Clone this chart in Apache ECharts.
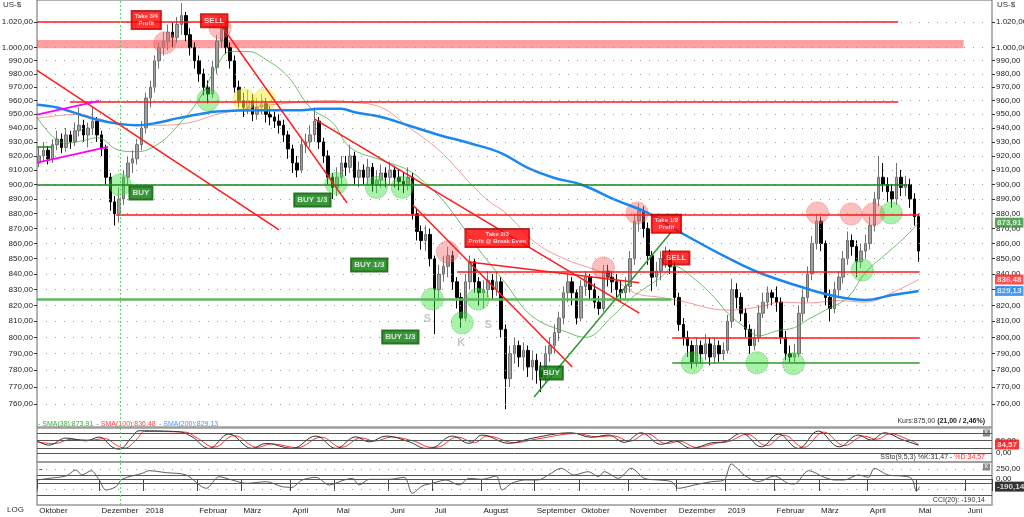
<!DOCTYPE html>
<html><head><meta charset="utf-8">
<script src="https://cdn.jsdelivr.net/npm/echarts@6/dist/echarts.min.js"></script>
<style>html,body{margin:0;padding:0;background:#fff}#c{width:1024px;height:517px}</style>
</head><body><div id="c"></div><script>
// ---------- DATA ----------
const opens=[915,920,924,918,928,932,926,935,930,938,942,935,940,945,935,925,905,888,880,890,905,915,918,928,940,962,970,990,1000,1005,1012,1008,1018,1025,1010,1000,990,980,970,965,985,1005,1015,1000,990,970,960,955,960,950,955,958,950,948,945,942,935,925,915,910,928,930,935,945,930,920,905,898,905,915,912,920,905,910,905,912,900,903,908,905,910,905,902,900,905,880,868,862,866,850,830,840,845,852,835,825,812,835,848,835,828,830,836,830,835,805,775,790,795,788,792,782,786,780,776,790,795,803,812,828,835,828,812,832,838,830,822,818,842,838,835,830,828,832,850,875,882,870,852,838,842,850,852,845,825,808,800,795,785,795,790,796,788,795,790,792,810,830,825,815,805,795,800,815,822,828,825,822,800,790,788,790,815,825,840,860,875,860,825,818,830,838,850,862,858,848,855,860,872,890,905,900,895,890,905,898,900,890,878];
const closes=[920,924,918,928,932,926,935,930,938,942,935,940,945,935,925,905,888,880,890,905,915,918,928,940,962,970,990,1000,1005,1012,1008,1018,1025,1010,1000,990,980,970,965,985,1005,1015,1000,990,970,960,955,960,950,955,958,950,948,945,942,935,925,915,910,928,930,935,945,930,920,905,898,905,915,912,920,905,910,905,912,900,903,908,905,910,905,902,900,905,880,868,862,866,850,830,840,845,852,835,825,812,835,848,835,828,830,836,830,835,805,775,790,795,788,792,782,786,780,776,790,795,803,812,828,835,828,812,832,838,830,822,818,842,838,835,830,828,832,850,875,882,870,852,838,842,850,852,845,825,808,800,795,785,795,790,796,788,795,790,792,810,830,825,815,805,795,800,815,822,828,825,822,800,790,788,790,815,825,840,860,875,860,825,818,830,838,850,862,858,848,855,860,872,890,905,900,895,890,905,898,900,890,878,855];
const lows=[912,916,914,915,924,922,923,925,927,934,930,926,935,930,920,900,882,872,874,886,900,908,914,924,936,955,966,984,994,998,1000,1004,1010,1005,994,984,974,964,958,962,980,1000,995,984,966,955,948,950,945,946,950,944,942,940,936,930,918,908,905,908,922,926,930,925,915,900,890,892,900,906,908,900,898,900,900,895,894,898,898,900,898,896,894,896,876,862,856,855,845,802,824,835,838,830,818,806,810,830,828,820,818,825,824,826,800,757,770,784,782,780,776,774,772,767,772,785,790,798,808,822,820,808,810,826,824,818,814,816,832,828,824,822,824,828,846,868,864,846,829,832,836,844,840,820,804,795,788,781,782,784,786,783,784,785,786,790,806,818,810,800,790,792,797,812,818,820,816,796,786,785,785,788,810,822,836,856,855,820,810,815,826,834,846,852,838,844,850,856,868,885,895,888,884,886,892,892,884,872,848];
const highs=[926,930,927,932,938,936,940,938,944,955,946,944,955,948,938,928,908,892,898,910,920,924,932,945,966,975,994,1004,1012,1018,1020,1024,1035,1028,1015,1004,994,984,975,990,1010,1025,1020,1004,994,975,966,968,965,962,965,962,956,952,950,946,938,928,920,932,936,942,955,948,933,924,908,912,920,920,928,923,916,914,918,915,910,914,912,916,913,910,908,912,908,884,872,872,870,852,846,852,858,855,838,828,840,852,850,838,836,842,840,842,838,808,795,800,798,797,795,792,790,785,795,800,808,816,832,840,838,830,836,842,840,834,826,846,846,842,840,836,838,855,880,887,885,874,855,848,855,858,856,848,828,812,804,798,800,798,802,800,800,798,797,814,837,834,828,818,808,805,820,828,832,830,832,825,804,795,796,820,830,845,865,880,878,862,830,835,842,855,868,866,862,860,866,878,895,920,915,905,900,915,910,906,904,894,880];

// moving averages: [bar index, value]
const sma38=[[-0.5,948],[6,929],[10,931],[13,933],[18,924],[22,923],[27,929],[31,941],[36,961],[40,986],[43,997],[47,997],[51,991],[56,978],[61,955],[66,944],[70,926],[77,917],[83,910],[88,898],[92,885],[99,856],[105,834],[111,813],[119,803],[123,800],[129,813],[133.5,825],[140,838],[143,845],[147,838],[152,825],[155,815],[159,806],[162,801],[166,804],[170,806],[173,811],[177,817],[182,825],[186,841],[191,854],[195,864.5],[198,873.91]];
const sma100=[[-0.5,947],[9,950],[13,947],[20,942],[27,942],[34,944],[40,950],[45,953],[50,956],[59,959],[65,960],[70,959],[77,955],[83,941],[90,924],[97,901],[101,889],[105,880.5],[112,860],[119,849],[125,843],[129,838],[134,828],[140,825],[144,823],[155,817],[162,819],[167,822],[173,821.5],[180,823],[186,822],[192,828],[198,836.48]];
const sma200=[[-0.5,957],[4,955],[9,950],[13,946],[18,943],[22,942],[27,944],[31,947],[36,950],[40,952],[50,953],[59,953],[63,954],[68,954],[71,951.5],[77,948],[83,942],[90,935],[97,929],[104,922],[110,911.5],[116,904.5],[122,900],[130,889],[137,880.5],[144,868],[155,850.5],[162,841],[173,830.4],[180,825.3],[186,823.4],[192,826.5],[198,829.13]];

// Slow stochastic %K / %D and CCI
const stochK=[[-0.5,49],[2.2,32],[6,60],[10.5,49],[13.5,64],[16.4,25],[18,16],[20.9,65],[22.5,89],[31.5,85],[34.4,65],[38.2,19],[42.7,76],[47.9,19],[51.1,39],[56.9,19],[62.3,68],[66.8,19],[71.3,65],[74.3,45],[78.1,68],[83.3,45],[87.1,19],[88.5,21],[93,68],[96.8,39],[99.7,72],[105.8,39],[110.8,59],[119.8,81],[124.3,63],[128.1,72],[131.7,43],[135.5,81],[140,35],[143,49],[146.8,19],[151.3,41],[154.2,45],[158.1,79],[162.6,25],[166.4,76],[170.9,19],[175.4,88],[180.1,25],[184.4,72],[187.3,52],[190.3,81],[194.1,55],[198,31.47]];
const stochD=[[-0.5,45],[3.4,38],[7.2,55],[11.7,52],[14.7,58],[17.6,30],[19.2,20],[22.1,58],[23.7,86],[32.7,84],[35.6,60],[39.4,24],[43.9,70],[49.1,23],[52.3,37],[58.1,22],[63.5,64],[68,23],[72.5,61],[75.5,48],[79.3,64],[84.5,47],[88.3,23],[89.7,24],[94.2,64],[98,42],[100.9,68],[107,42],[112,56],[121,78],[125.5,65],[129.3,69],[132.9,47],[136.7,78],[141.2,38],[144.2,47],[148,23],[152.5,40],[155.4,47],[159.3,75],[163.8,30],[167.6,72],[172.1,23],[176.6,84],[181.3,30],[185.6,68],[188.5,55],[191.5,77],[195.3,57],[198,34.57]];
const cci=[[-0.5,-25],[2.2,17],[6,75],[8.3,225],[9.6,100],[11.7,208],[13.5,-25],[15,-275],[17.3,-192],[18.6,-8],[23.2,142],[24.7,208],[28.6,158],[33.1,100],[37.6,-233],[40.5,58],[43.4,-25],[46.6,-108],[51.1,-67],[54.7,-192],[56.9,-208],[59.2,-25],[62.3,42],[65.3,-150],[68.2,-42],[70.5,17],[72,-150],[74.3,-8],[78.8,-8],[82.2,42],[84,-358],[86.2,-175],[88.5,-108],[91.6,-25],[94.5,-150],[96.8,17],[99.7,-8],[102.9,75],[104.2,-275],[105.8,-150],[106.3,-108],[109.2,-25],[112.3,-25],[114.6,100],[117.5,267],[120.4,100],[123.6,183],[125.9,58],[127.2,183],[130.4,17],[133.3,267],[136.2,17],[139.4,-25],[142.3,-67],[143.9,-233],[147.5,-150],[151.3,-67],[154.2,-25],[155.8,375],[158.7,100],[161.9,-67],[165.5,75],[168.6,-108],[170,-125],[173.2,208],[176.8,42],[179,-25],[181.2,-25],[184.4,100],[186.7,42],[188,267],[191.1,100],[194.1,75],[196.4,17],[197.5,-308],[198.2,-190.14]];

const priceTicks=[760,770,780,790,800,810,820,830,840,850,860,870,880,890,900,910,920,930,940,950,960,970,980,990,1000,1020];
const stochTicks=[0,50];
const cciTicks=[0,250];
const monthNames=['Januar','Februar','März','April','Mai','Juni','Juli','August','September','Oktober','November','Dezember'];

// horizontal support/resistance: [fromBar, toBar, price, style]
const hLevels=[[-0.5,193.4,1020,'red'],[6.9,193.4,959.5,'red'],[-0.5,195.5,899.5,'dkgreen'],[17.3,198.2,879,'red'],[94.1,198.2,841.3,'red'],[-0.5,142.3,824,'ltgreen'],[142.5,198.2,800,'red'],[142.5,198.2,784.6,'green'],[-0.5,2.9,926.4,'dkgreen']];
// trend lines: [bar1, price1, bar2, price2, style]
const trendLines=[[-0.5,982.6,54,869,'red'],[41.2,1016.2,69.3,887.3,'red'],[61.9,946.7,135.1,815.1,'red'],[84.1,885.9,120,782,'red'],[96.8,847.9,135.1,834.4,'red'],[111.4,764.1,142.3,867.7,'green'],[-0.5,949.7,13.5,959.8,'magenta'],[-0.5,915.3,15.5,926.4,'magenta']];
const zoneBand=[-0.5,208.1,999.5,1006];
const redMarks=[[28.3,1003.7],[40.7,1015.4],[91.9,854.4],[127,844],[134.6,880.5],[175.2,880.5],[182.8,879.8],[187.8,879.8]];
const greenMarks=[[18.2,899.7],[38,960.6],[66.8,900.7],[75.9,898],[81.7,898],[88.5,824],[95.2,809],[98.8,824],[147,784.5],[161.6,784.5],[169.8,784],[185.3,842.6],[191.8,880.5]];
const yellowMarks=[[46.1,960.6],[50.7,960.6]];
// signal boxes: [bar, price, text, kind]
const signals=[[24.1,1021.6,'Take 3/4\nProfit','take'],[39.4,1020.9,'SELL','sell'],[103.1,863.7,'Take 2/3\nProfit @ Break Even','take'],[141.2,873.1,'Take 1/2\nProfit','take'],[143.4,850.5,'SELL','sell'],[22.9,894.1,'BUY','buy'],[61.5,889.3,'BUY 1/3','buy'],[74.3,845.9,'BUY 1/3','buy'],[81.3,800.3,'BUY 1/3','buy'],[115.3,778.4,'BUY','buy'],[87.4,811.4,'S','grey'],[95,796.6,'K','grey'],[101.1,807.7,'S','grey']];
const markerBar=18.2;
const lastVals={sma38:873.91,sma100:836.48,sma200:829.13,stochD:34.57,cci:-190.14};

// ---------- CHART ----------
const FONT='"Liberation Sans", Arial, sans-serif';
function de(v,dec){dec=dec==null?2:dec;const neg=v<0;let s=Math.abs(v).toFixed(dec);let p=s.split('.');let i=p[0].replace(/\B(?=(\d{3})+(?!\d))/g,'.');return (neg?'-':'')+i+','+p[1];}
const cats=[];(function(){let d=new Date(Date.UTC(2017,9,25));let w=0;while(cats.length<215){const wd=d.getUTCDay();if(wd!==0&&wd!==6){if(w%2===0)cats.push(d.toISOString().slice(0,10));w++;}d.setUTCDate(d.getUTCDate()+1);}})();
const N=cats.length;
function showMonth(i){if(i===0)return true;if(i<8)return false;return cats[i].slice(5,7)!==cats[i-1].slice(5,7);}
function monthLabel(v){const m=+v.slice(5,7);return m===1?v.slice(0,4):monthNames[m-1];}
const yMin=746.65,yMax=1037.4;
const lnTicks=priceTicks.map(Math.log);
const candleData=opens.map((o,i)=>[o,closes[i],lows[i],highs[i]]);

const lineStyles={red:{color:'#ff1a1a',width:1.5},dkgreen:{color:'#138a13',width:1.5},ltgreen:{color:'#5cb85c',width:2.5},green:{color:'#2c9a2c',width:1.5},magenta:{color:'#ff00ff',width:1.8}};
const levelLines=hLevels.map(h=>[{coord:[h[0],h[2]],lineStyle:Object.assign({type:'solid'},lineStyles[h[3]])},{coord:[h[1],h[2]]}]);
const trendLineData=trendLines.map(t=>[{coord:[t[0],t[1]],lineStyle:Object.assign({type:'solid'},lineStyles[t[4]])},{coord:[t[2],t[3]]}]);
const gridDots=priceTicks.map(p=>({yAxis:p}));
const boxStyles={
 take:{backgroundColor:'#ff0000',borderColor:'#a00000',borderWidth:1,color:'#fff',fontSize:6,lineHeight:7,padding:[2,3],fontWeight:'bold'},
 sell:{backgroundColor:'#ff0000',borderColor:'#a00000',borderWidth:1,color:'#fff',fontSize:8,lineHeight:9,padding:[2,3],fontWeight:'bold'},
 buy:{backgroundColor:'#0a7a0a',borderColor:'#045004',borderWidth:1,color:'#fff',fontSize:8,lineHeight:9,padding:[2,3],fontWeight:'bold'},
 grey:{color:'#b8b8b8',fontSize:11,fontWeight:'bold'}
};
const signalData=signals.map(s=>({value:[s[0],s[1]],label:Object.assign({show:true,position:'inside',formatter:s[2],fontFamily:FONT,align:'center'},boxStyles[s[3]])}));
function endBox(v,bg){return {value:[N-0.5,v],label:{show:true,position:'right',distance:3,formatter:de(v),backgroundColor:bg,color:'#fff',fontSize:8,fontFamily:FONT,padding:[1,2],fontWeight:'bold'}};}
const axisLabelBase={fontSize:8,color:'#222',fontFamily:FONT};
const vMarker={silent:true,symbol:['none','none'],label:{show:false},lineStyle:{color:'#66cc66',type:[2,2],width:1},data:[{xAxis:markerBar}],animation:false};

const option={
 animation:false,
 backgroundColor:'#fff',
 textStyle:{fontFamily:FONT},
 grid:[
  {left:37,top:0,width:955,height:427,show:true,borderColor:'#666',borderWidth:1,backgroundColor:'transparent',outerBoundsMode:'none',containLabel:false},
  {left:37,top:428,width:955,height:34,show:true,borderColor:'#999',borderWidth:1.5,backgroundColor:'transparent',outerBoundsMode:'none',containLabel:false},
  {left:37,top:462,width:955,height:43,show:true,borderColor:'#999',borderWidth:1.5,backgroundColor:'transparent',outerBoundsMode:'none',containLabel:false}
 ],
 xAxis:[
  {type:'category',gridIndex:0,data:cats,boundaryGap:true,axisLine:{show:false},axisTick:{show:false},axisLabel:{show:false},splitLine:{show:false}},
  {type:'value',gridIndex:0,min:-0.5,max:N-0.5,show:false},
  {type:'value',gridIndex:1,min:-0.5,max:N-0.5,show:false},
  {type:'category',gridIndex:2,data:cats,boundaryGap:true,axisLine:{show:true,lineStyle:{color:'#333'}},
   axisTick:{show:true,interval:(i)=>showMonth(i),length:12,lineStyle:{color:'#444'}},
   axisLabel:Object.assign({interval:(i)=>showMonth(i),formatter:monthLabel,align:'left',margin:2,hideOverlap:false},axisLabelBase),splitLine:{show:false}},
  {type:'value',gridIndex:2,min:-0.5,max:N-0.5,show:false}
 ],
 yAxis:[
  {type:'log',gridIndex:0,logBase:10,min:yMin,max:yMax,show:false},
  {type:'value',gridIndex:0,position:'left',min:Math.log(yMin),max:Math.log(yMax),axisLine:{show:false},splitLine:{show:false},
   axisTick:{show:true,customValues:lnTicks,length:3,lineStyle:{color:'#333'}},
   axisLabel:Object.assign({customValues:lnTicks,formatter:v=>de(Math.round(Math.exp(v))),margin:4},axisLabelBase)},
  {type:'value',gridIndex:0,position:'right',min:Math.log(yMin),max:Math.log(yMax),axisLine:{show:false},splitLine:{show:false},
   axisTick:{show:true,customValues:lnTicks,length:3,lineStyle:{color:'#333'}},
   axisLabel:Object.assign({customValues:lnTicks,formatter:v=>de(Math.round(Math.exp(v))),margin:4},axisLabelBase)},
  {type:'value',gridIndex:1,position:'right',min:-35,max:100,axisLine:{show:false},splitLine:{show:false},
   axisTick:{show:true,customValues:stochTicks,length:3},axisLabel:Object.assign({customValues:stochTicks,formatter:v=>de(v),margin:4},axisLabelBase)},
  {type:'value',gridIndex:2,position:'right',min:-650,max:425,axisLine:{show:false},splitLine:{show:false},
   axisTick:{show:true,customValues:cciTicks,length:3},axisLabel:Object.assign({customValues:cciTicks,formatter:v=>de(v),margin:4},axisLabelBase)}
 ],
 series:[
  {type:'line',name:'grid',xAxisIndex:1,yAxisIndex:0,data:[],silent:true,
   markLine:{silent:true,symbol:['none','none'],label:{show:false},lineStyle:{color:'#999',type:[1,8],width:1},data:gridDots,animation:false},
   markArea:{silent:true,itemStyle:{color:'rgba(255,80,80,0.55)'},data:[[{coord:[zoneBand[0],zoneBand[3]]},{coord:[zoneBand[1],zoneBand[2]]}]]}},
  {type:'candlestick',name:'Kurs',xAxisIndex:0,yAxisIndex:0,data:candleData,barWidth:3,
   itemStyle:{color:'#a0a0a0',color0:'#000',borderColor:'#707070',borderColor0:'#000',borderWidth:1}},
  {type:'line',name:'SMA100',xAxisIndex:1,yAxisIndex:0,data:sma100,smooth:0.4,symbol:'none',lineStyle:{color:'rgba(240,70,70,0.55)',width:1}},
  {type:'line',name:'SMA38',xAxisIndex:1,yAxisIndex:0,data:sma38,smooth:0.4,symbol:'none',lineStyle:{color:'rgba(60,170,60,0.75)',width:1}},
  {type:'line',name:'SMA200',xAxisIndex:1,yAxisIndex:0,data:sma200,smooth:0.4,symbol:'none',lineStyle:{color:'#1a86f0',width:2.5}},
  {type:'line',name:'levels',xAxisIndex:1,yAxisIndex:0,data:[],silent:true,
   markLine:{silent:true,symbol:['none','none'],label:{show:false},data:levelLines.concat(trendLineData),animation:false}},
  {type:'line',name:'marker',xAxisIndex:1,yAxisIndex:0,data:[],silent:true,markLine:vMarker},
  {type:'scatter',name:'red',xAxisIndex:1,yAxisIndex:0,data:redMarks,symbolSize:22,silent:true,
   itemStyle:{color:'rgba(245,110,110,0.55)',borderColor:'rgba(230,80,80,0.8)',borderWidth:1,borderType:'dotted'}},
  {type:'scatter',name:'green',xAxisIndex:1,yAxisIndex:0,data:greenMarks,symbolSize:22,silent:true,
   itemStyle:{color:'rgba(60,225,60,0.55)',borderColor:'rgba(40,180,40,0.8)',borderWidth:1,borderType:'dotted'}},
  {type:'scatter',name:'yellow',xAxisIndex:1,yAxisIndex:0,data:yellowMarks,symbolSize:22,silent:true,
   itemStyle:{color:'rgba(250,240,70,0.7)',borderColor:'rgba(220,200,40,0.8)',borderWidth:1,borderType:'dotted'}},
  {type:'scatter',name:'signals',xAxisIndex:1,yAxisIndex:0,data:signalData,symbolSize:0,silent:true,z:6},
  {type:'scatter',name:'ends',xAxisIndex:1,yAxisIndex:0,symbolSize:0,silent:true,clip:false,z:6,
   data:[endBox(lastVals.sma38,'#2f8f2f'),endBox(lastVals.sma100,'#ff2222'),endBox(lastVals.sma200,'#1a86f0')]},
  // stochastic
  {type:'line',name:'%D',xAxisIndex:2,yAxisIndex:3,data:stochD,smooth:0.4,symbol:'none',lineStyle:{color:'#ff3030',width:1},
   markLine:{silent:true,symbol:['none','none'],label:{show:false},lineStyle:{color:'#555',type:'solid',width:1},data:[{yAxis:80},{yAxis:50},{yAxis:20},{yAxis:0}],animation:false}},
  {type:'line',name:'%K',xAxisIndex:2,yAxisIndex:3,data:stochK,smooth:0.4,symbol:'none',lineStyle:{color:'#333',width:1},markLine:vMarker},
  {type:'scatter',name:'stEnd',xAxisIndex:2,yAxisIndex:3,symbolSize:0,silent:true,clip:false,z:6,data:[endBox(lastVals.stochD,'#ff0000')]},
  // CCI
  {type:'line',name:'CCI',xAxisIndex:4,yAxisIndex:4,data:cci,smooth:0.3,symbol:'none',lineStyle:{color:'#333',width:0.8},
   markLine:{silent:true,symbol:['none','none'],label:{show:false},lineStyle:{color:'#555',type:'solid',width:1},data:[{yAxis:100},{yAxis:0},{yAxis:-100},{yAxis:-400},{yAxis:250,lineStyle:{color:'#999',type:[1,8]}},{yAxis:-250,lineStyle:{color:'#999',type:[1,8]}}],animation:false}},
  {type:'line',name:'cciMarker',xAxisIndex:4,yAxisIndex:4,data:[],silent:true,markLine:vMarker},
  {type:'scatter',name:'cciEnd',xAxisIndex:4,yAxisIndex:4,symbolSize:0,silent:true,clip:false,z:6,data:[endBox(lastVals.cci,'#000')]}
 ],
 graphic:[
  {type:'text',left:3,top:1,style:{text:'US-$',fontSize:8,fontFamily:FONT,fill:'#333'}},
  {type:'text',left:997,top:1,style:{text:'US-$',fontSize:8,fontFamily:FONT,fill:'#333'}},
  {type:'text',left:7,top:506,style:{text:'LOG',fontSize:8,fontFamily:FONT,fill:'#333'}},
  {type:'text',left:38,top:418,style:{text:'{g|- SMA(38):873,91} {r|- SMA(100):836,48} {b|- SMA(200):829,13}',
    rich:{g:{fill:'#3aa83a',fontSize:7,fontFamily:FONT},r:{fill:'#ff4040',fontSize:7,fontFamily:FONT},b:{fill:'#3d96ff',fontSize:7,fontFamily:FONT}}}},
  {type:'text',right:39,top:418,style:{text:'{n|Kurs:875,00 }{b|(21,00 / 2,46%)}',
    rich:{n:{fill:'#333',fontSize:7,fontFamily:FONT},b:{fill:'#222',fontSize:7,fontFamily:FONT,fontWeight:'bold'}}}},
  {type:'text',right:39,top:454,style:{text:'{n|SSto(9,5,3) %K:31,47 - }{r|%D:34,57}',
    rich:{n:{fill:'#333',fontSize:7,fontFamily:FONT},r:{fill:'#ff3030',fontSize:7,fontFamily:FONT}}}},
  {type:'text',right:39,top:497,style:{text:'CCI(20): -190,14',fontSize:7,fontFamily:FONT,fill:'#333'}},
  {type:'group',left:983,top:429,children:[{type:'rect',shape:{x:0,y:0,width:7,height:7},style:{fill:'#888'}},{type:'text',x:1.5,y:-0.5,style:{text:'x',fontSize:7,fill:'#fff',fontFamily:FONT}}]},
  {type:'group',left:983,top:463,children:[{type:'rect',shape:{x:0,y:0,width:7,height:7},style:{fill:'#888'}},{type:'text',x:1.5,y:-0.5,style:{text:'x',fontSize:7,fill:'#fff',fontFamily:FONT}}]}
 ]
};
const chart=echarts.init(document.getElementById('c'),null,{renderer:'canvas',width:1024,height:517});
chart.setOption(option);
</script></body></html>
